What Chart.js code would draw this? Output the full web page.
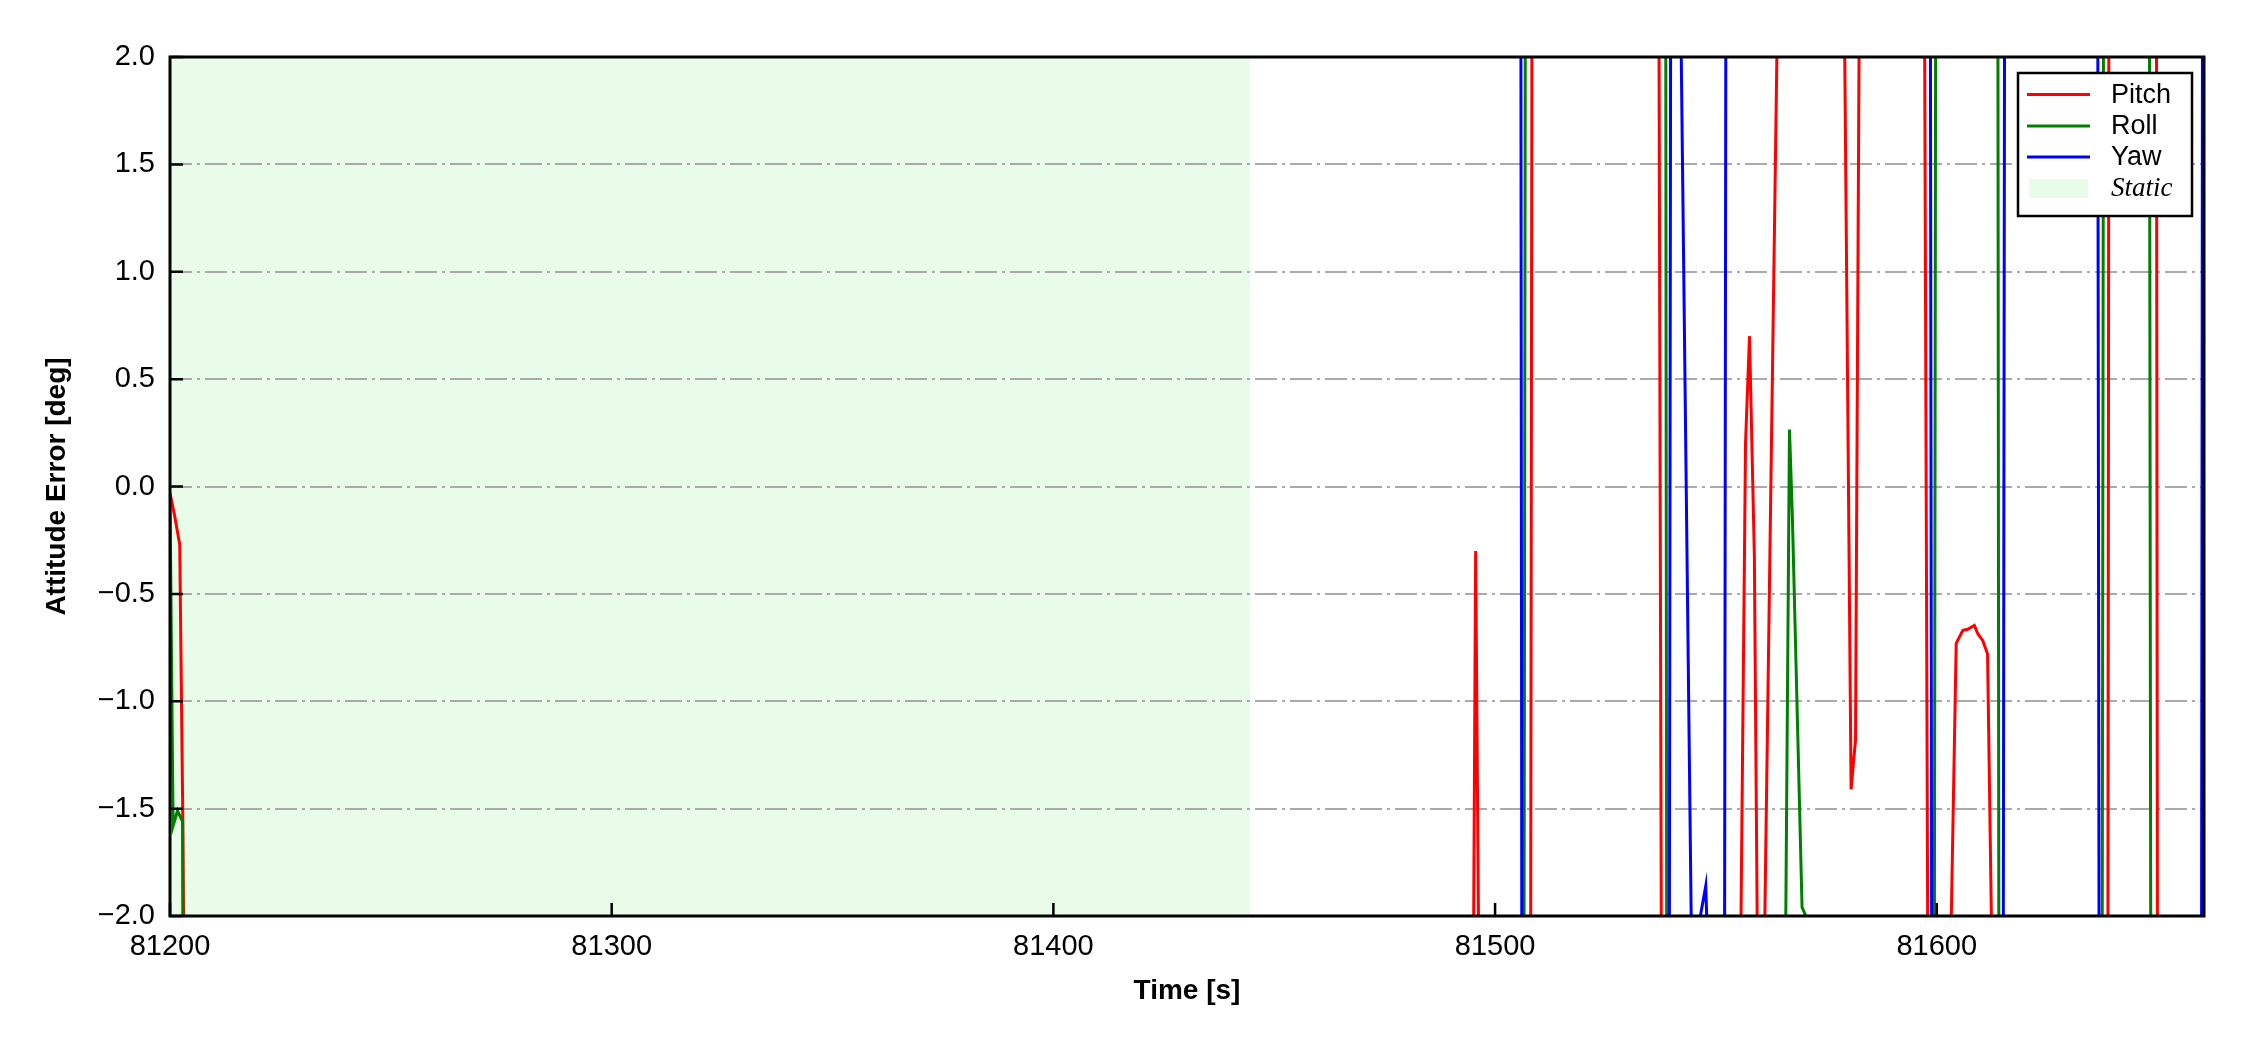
<!DOCTYPE html>
<html>
<head>
<meta charset="utf-8">
<script src="https://cdn.jsdelivr.net/npm/chart.js@4.4.1/dist/chart.umd.min.js"></script>
<style>
  html, body { margin: 0; padding: 0; background: #fff; }
</style>
</head>
<body>
<canvas id="attitude" width="2250" height="1050"></canvas>
<script>
// Attitude error [deg] against time [s].
// +/-3 only marks "off the axes" (the real values are far outside -2..2).
var pitchTime = [81200.0, 81201.0, 81202.2, 81202.9, 81203.3, 81494.9, 81495.6, 81496.6, 81508.0, 81508.4,
  81537.0, 81537.75, 81555.4, 81556.7, 81557.6, 81558.7, 81559.6, 81560.8, 81564.0, 81579.0,
  81580.6, 81581.6, 81582.6, 81597.1, 81598.1, 81603.2, 81604.4, 81605.9, 81607.0, 81608.5,
  81609.3, 81610.4, 81611.5, 81612.5, 81638.7, 81639.0, 81649.7, 81650.0, 81660.5];
var pitchErr = [-0.03, -0.13, -0.27, -1.55, -2.6, -3.0, -0.30, -3.0, -3.0, 3.0,
  3.0, -3.0, -2.6, 0.2, 0.70, -0.32, -2.7, -2.4, 2.3, 2.4,
  -1.41, -1.18, 2.8, 3.0, -3.0, -2.1, -0.73, -0.67, -0.665, -0.647,
  -0.686, -0.717, -0.78, -2.2, -3.0, 3.0, 3.0, -3.0, -3.0];

var rollTime = [81200.0, 81200.7, 81201.7, 81202.85, 81203.0, 81506.5, 81506.9, 81538.6, 81538.9, 81565.6,
  81566.65, 81567.3, 81569.5, 81570.8, 81599.4, 81599.8, 81613.8, 81614.1, 81637.4, 81637.8,
  81648.1, 81648.5, 81660.5];
var rollErr = [-0.05, -1.58, -1.51, -1.56, -3.0, -3.0, 3.0, 3.0, -3.0, -2.6,
  0.265, -0.134, -1.96, -2.02, -3.0, 3.0, 3.0, -3.0, -3.0, 3.0,
  3.0, -3.0, -3.0];

var yawTime = [81200.0, 81505.8, 81506.1, 81539.4, 81539.8, 81542.0, 81544.6, 81546.3, 81547.7, 81548.2,
  81551.9, 81552.3, 81598.5, 81598.9, 81615.0, 81615.4, 81636.4, 81636.8, 81659.9, 81660.2,
  81660.5];
var yawErr = [3.0, 3.0, -3.0, -3.0, 3.0, 2.27, -2.36, -2.02, -1.86, -2.2,
  -3.0, 3.0, 3.0, -3.0, -3.0, 3.0, 3.0, -3.0, -3.0, 3.0,
  3.0];

var staticSpan = [81200, 81444.5];
var xTicks = [81200, 81300, 81400, 81500, 81600];
var yTicks = [-2.0, -1.5, -1.0, -0.5, 0.0, 0.5, 1.0, 1.5, 2.0];
var xRange = [81200, 81660.5];
var yRange = [-2, 2];

var sans = '"Liberation Sans", Arial, sans-serif';
var staticColor = 'rgba(144, 238, 144, 0.2)';

function points(t, v) {
  return t.map(function (x, i) { return { x: x, y: v[i] }; });
}

// shaded static period, inward ticks, full frame and the legend box
var framePlugin = {
  id: 'frame',
  beforeDraw: function (chart) {
    var a = chart.chartArea, ctx = chart.ctx, xs = chart.scales.x;
    var x0 = xs.getPixelForValue(staticSpan[0]);
    var x1 = xs.getPixelForValue(staticSpan[1]);
    ctx.save();
    ctx.fillStyle = staticColor;
    ctx.fillRect(x0, a.top, x1 - x0, a.bottom - a.top);
    ctx.restore();
  },
  afterDraw: function (chart) {
    var a = chart.chartArea, ctx = chart.ctx;
    var xs = chart.scales.x, ys = chart.scales.y;
    ctx.save();
    ctx.strokeStyle = '#000';
    ctx.lineWidth = 2.5;
    ctx.beginPath();
    yTicks.forEach(function (v) {
      var p = ys.getPixelForValue(v);
      ctx.moveTo(a.left, p);
      ctx.lineTo(a.left + 13, p);
    });
    xTicks.forEach(function (v) {
      var p = xs.getPixelForValue(v);
      ctx.moveTo(p, a.bottom);
      ctx.lineTo(p, a.bottom - 13);
    });
    ctx.stroke();

    ctx.lineWidth = 3;
    ctx.strokeRect(a.left, a.top, a.right - a.left, a.bottom - a.top);

    // legend
    var bx = a.right - 186, by = a.top + 16, bw = 174, bh = 143;
    ctx.fillStyle = '#fff';
    ctx.fillRect(bx, by, bw, bh);
    ctx.lineWidth = 2.5;
    ctx.strokeRect(bx, by, bw, bh);
    var rows = [21.5, 53, 84, 115];
    ctx.textBaseline = 'middle';
    ctx.textAlign = 'left';
    chart.data.datasets.forEach(function (ds, i) {
      var y = by + rows[i];
      ctx.strokeStyle = ds.borderColor;
      ctx.lineWidth = 3;
      ctx.beginPath();
      ctx.moveTo(bx + 9, y);
      ctx.lineTo(bx + 72, y);
      ctx.stroke();
      ctx.fillStyle = '#000';
      ctx.font = '27px ' + sans;
      ctx.fillText(ds.label, bx + 93, y + 1);
    });
    ctx.fillStyle = staticColor;
    ctx.fillRect(bx + 11, by + rows[3] - 9, 59, 19);
    ctx.fillStyle = '#000';
    ctx.font = 'italic 27px "Liberation Serif", "Times New Roman", serif';
    ctx.fillText('Static', bx + 93, by + rows[3] + 1);
    ctx.restore();
  }
};

var ctx = document.getElementById('attitude').getContext('2d');

var myChart = new Chart(ctx, {
  type: 'line',
  data: {
    datasets: [
      { label: 'Pitch', data: points(pitchTime, pitchErr), borderColor: '#ff0000', order: 2 },
      { label: 'Roll', data: points(rollTime, rollErr), borderColor: '#008000', order: 1 },
      { label: 'Yaw', data: points(yawTime, yawErr), borderColor: '#0000ff', order: 0 }
    ]
  },
  options: {
    responsive: false,
    animation: false,
    events: [],
    layout: { padding: { top: 57, right: 46, left: 0, bottom: 0 } },
    elements: {
      line: { borderWidth: 3, tension: 0, fill: false },
      point: { radius: 0 }
    },
    datasets: { line: { clip: 0 } },
    plugins: { legend: { display: false }, tooltip: { enabled: false } },
    scales: {
      x: {
        type: 'linear',
        min: xRange[0],
        max: xRange[1],
        afterBuildTicks: function (scale) {
          scale.ticks = xTicks.map(function (v) { return { value: v }; });
        },
        afterFit: function (scale) { scale.height = 134; },
        grid: { display: false, drawTicks: false },
        border: { display: false },
        ticks: {
          autoSkip: false,
          maxRotation: 0,
          padding: 14,
          color: '#000',
          font: { family: sans, size: 29 },
          callback: function (v) { return String(v); }
        },
        title: {
          display: true,
          text: 'Time [s]',
          color: '#000',
          font: { family: sans, size: 28, weight: 'bold' },
          padding: { top: 0, bottom: 42 }
        }
      },
      y: {
        min: yRange[0],
        max: yRange[1],
        afterBuildTicks: function (scale) {
          scale.ticks = yTicks.map(function (v) { return { value: v }; });
        },
        afterFit: function (scale) { scale.width = 170; },
        grid: { color: '#aaaaaa', lineWidth: 2, drawTicks: false },
        border: { display: false, dash: [22, 5, 3, 5] },
        ticks: {
          padding: 15,
          color: '#000',
          font: { family: sans, size: 29 },
          callback: function (v) {
            return v < 0 ? '\u2212' + Math.abs(v).toFixed(1) : v.toFixed(1);
          }
        },
        title: {
          display: true,
          text: 'Attitude Error [deg]',
          color: '#000',
          font: { family: sans, size: 28, weight: 'bold' },
          padding: { top: 40, bottom: 0 }
        }
      }
    }
  },
  plugins: [framePlugin]
});
</script>
</body>
</html>
